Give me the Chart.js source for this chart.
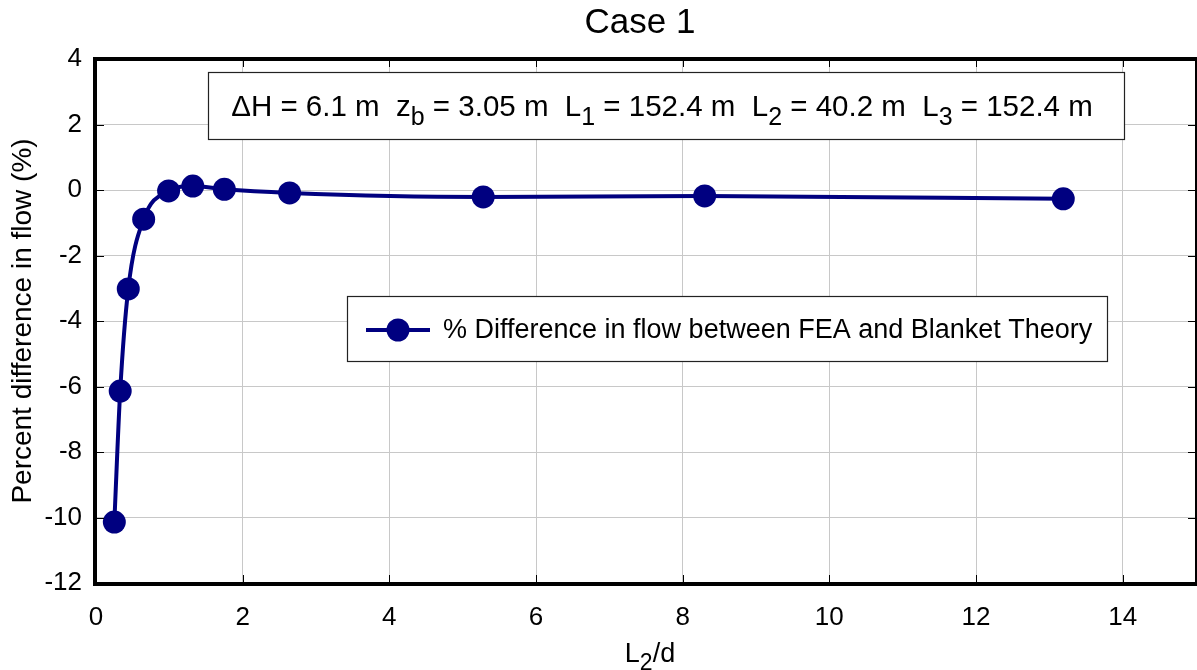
<!DOCTYPE html>
<html>
<head>
<meta charset="utf-8">
<script src="https://cdn.jsdelivr.net/npm/chart.js@4.4.1/dist/chart.umd.min.js"></script>
<style>
  html, body { margin: 0; padding: 0; background: #ffffff; }
  #wrap { width: 1197px; height: 670px; position: relative; }
</style>
</head>
<body>
<div id="wrap"><canvas id="c" width="1197" height="670"></canvas></div>
<script>
// ---- Data ----
const chartTitle = "Case 1";
const seriesLabel = "% Difference in flow between FEA and Blanket Theory";
const xValues = [0.25, 0.33, 0.44, 0.65, 0.99, 1.32, 1.75, 2.64, 5.28, 8.30, 13.19];
const yValues = [-10.14, -6.14, -3.02, -0.89, -0.03, 0.12, 0.02, -0.09, -0.21, -0.18, -0.27];
const xTickValues = [0, 2, 4, 6, 8, 10, 12, 14];
const yTickValues = [-12, -10, -8, -6, -4, -2, 0, 2, 4];
const yAxisTitle = "Percent difference in flow (%)";
const xAxisTitleParts = [["L", false], ["2", true], ["/d", false]];
const annotationParts = [
  ["\u0394H = 6.1 m  z", false], ["b", true], [" = 3.05 m  L", false], ["1", true],
  [" = 152.4 m  L", false], ["2", true], [" = 40.2 m  L", false], ["3", true], [" = 152.4 m", false]
];

const FONT = "'Liberation Sans', Arial, Helvetica, sans-serif";
const NAVY = "#000080";

const points = xValues.map((x, i) => ({ x: x, y: yValues[i] }));

function drawParts(ctx, parts, cx, baseline, size, subScale) {
  const subSize = Math.round(size * (subScale || 0.85));
  let total = 0;
  const widths = parts.map(([t, sub]) => {
    ctx.font = (sub ? subSize : size) + "px " + FONT;
    const w = ctx.measureText(t).width;
    total += w;
    return w;
  });
  let x = cx - total / 2;
  ctx.textAlign = "left";
  ctx.textBaseline = "alphabetic";
  parts.forEach(([t, sub], i) => {
    ctx.font = (sub ? subSize : size) + "px " + FONT;
    ctx.fillText(t, x, baseline + (sub ? size * 0.3 : 0));
    x += widths[i];
  });
  return total;
}

const decorPlugin = {
  id: "decor",
  afterDraw(chart) {
    const ctx = chart.ctx;
    const { left, right, top, bottom } = chart.chartArea;
    const xs = chart.scales.x, ys = chart.scales.y;
    ctx.save();
    // inward tick marks
    ctx.strokeStyle = "#000";
    ctx.lineWidth = 1;
    xTickValues.forEach(v => {
      const px = Math.round(xs.getPixelForValue(v)) + 0.5;
      ctx.beginPath();
      ctx.moveTo(px, bottom); ctx.lineTo(px, bottom - 8);
      ctx.moveTo(px, top); ctx.lineTo(px, top + 8);
      ctx.stroke();
    });
    yTickValues.forEach(v => {
      const py = Math.round(ys.getPixelForValue(v)) + 0.5;
      ctx.beginPath();
      ctx.moveTo(left, py); ctx.lineTo(left + 8, py);
      ctx.moveTo(right, py); ctx.lineTo(right - 8, py);
      ctx.stroke();
    });
    // frame
    ctx.fillStyle = "#000";
    ctx.fillRect(left - 3, top - 2, right - left + 5, 4);      // top
    ctx.fillRect(right - 1, top - 2, 3, bottom - top + 5);      // right
    ctx.fillRect(left - 3, top - 2, 4, bottom - top + 5);       // left
    ctx.fillRect(left - 3, bottom - 1, right - left + 5, 4);    // bottom

    // title
    ctx.fillStyle = "#000";
    ctx.font = "35px " + FONT;
    ctx.textAlign = "center";
    ctx.textBaseline = "alphabetic";
    ctx.fillText(chartTitle, 640, 33);

    // y-axis title
    ctx.save();
    ctx.translate(31, 321);
    ctx.rotate(-Math.PI / 2);
    ctx.font = "28px " + FONT;
    ctx.textAlign = "center";
    ctx.fillText(yAxisTitle, 0, 0);
    ctx.restore();

    // x-axis title
    drawParts(ctx, xAxisTitleParts, 650, 662, 27);

    // annotation box
    ctx.fillStyle = "#fff";
    ctx.fillRect(208, 72, 917, 68);
    ctx.strokeStyle = "#222";
    ctx.lineWidth = 1.2;
    ctx.strokeRect(208.5, 72.5, 916, 67);
    ctx.fillStyle = "#000";
    drawParts(ctx, annotationParts, 662, 116, 29.5);

    // legend box
    ctx.fillStyle = "#fff";
    ctx.fillRect(347, 296, 761, 66);
    ctx.strokeStyle = "#222";
    ctx.lineWidth = 1.2;
    ctx.strokeRect(347.5, 296.5, 760, 65);
    ctx.strokeStyle = NAVY;
    ctx.lineWidth = 4;
    ctx.beginPath();
    ctx.moveTo(366, 330); ctx.lineTo(430, 330);
    ctx.stroke();
    ctx.fillStyle = NAVY;
    ctx.beginPath();
    ctx.arc(398, 330, 11.5, 0, Math.PI * 2);
    ctx.fill();
    ctx.fillStyle = "#000";
    ctx.font = "27px " + FONT;
    ctx.textAlign = "left";
    ctx.textBaseline = "middle";
    ctx.fillText(chart.data.datasets[0].label, 443, 331);
    ctx.restore();
  }
};

new Chart(document.getElementById("c"), {
  type: "scatter",
  data: {
    datasets: [{
      label: seriesLabel,
      data: points,
      showLine: true,
      borderColor: NAVY,
      backgroundColor: NAVY,
      borderWidth: 4,
      pointRadius: 11.5,
      pointHoverRadius: 11.5,
      pointBorderWidth: 0,
      cubicInterpolationMode: "monotone",
      clip: false
    }]
  },
  options: {
    responsive: false,
    animation: false,
    events: [],
    layout: { autoPadding: false, padding: { top: 59, right: 1, left: 0, bottom: 0 } },
    plugins: {
      legend: { display: false },
      title: { display: false },
      tooltip: { enabled: false }
    },
    scales: {
      x: {
        type: "linear",
        min: 0, max: 15,
        afterFit(scale) { scale.height = 87; scale.paddingLeft = 0; scale.paddingRight = 0; },
        afterBuildTicks(scale) { scale.ticks = xTickValues.map(v => ({ value: v })); },
        grid: { color: "#c8c8c8", lineWidth: 1, drawTicks: false },
        border: { display: false },
        ticks: { padding: 19, color: "#000", font: { family: FONT, size: 26 } }
      },
      y: {
        type: "linear",
        min: -12, max: 4,
        afterFit(scale) { scale.width = 96; scale.paddingTop = 0; scale.paddingBottom = 0; },
        afterBuildTicks(scale) { scale.ticks = yTickValues.map(v => ({ value: v })); },
        grid: { color: "#c8c8c8", lineWidth: 1, drawTicks: false },
        border: { display: false },
        ticks: { padding: 14, color: "#000", font: { family: FONT, size: 26 } }
      }
    }
  },
  plugins: [decorPlugin]
});
</script>
</body>
</html>
